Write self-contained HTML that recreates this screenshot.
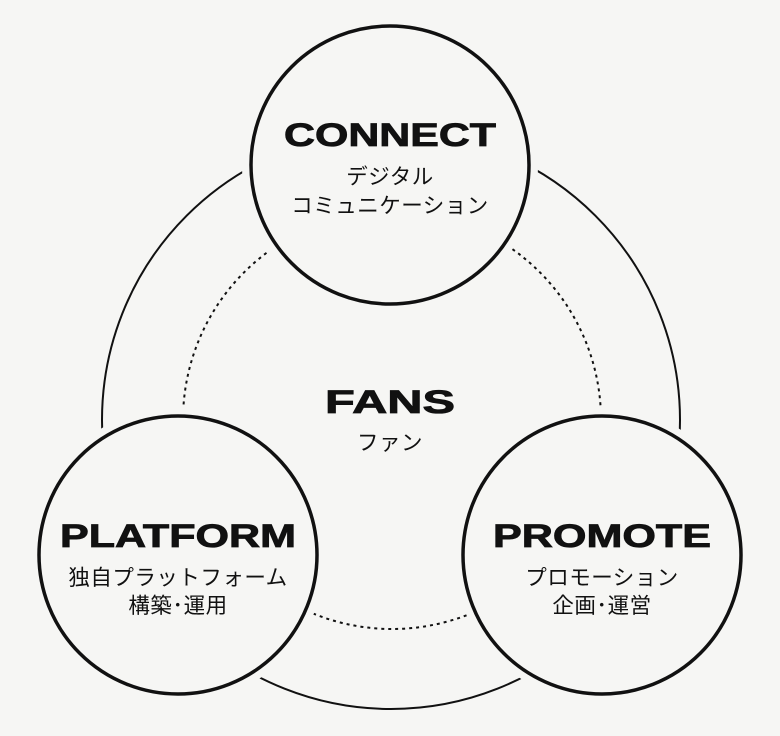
<!DOCTYPE html>
<html><head><meta charset="utf-8"><style>
html,body{margin:0;padding:0;background:#f6f6f4;}
svg{display:block}
.t{font-family:"Liberation Sans",sans-serif;font-weight:bold;font-size:32px;fill:#111;text-anchor:middle;stroke:#111;stroke-width:0.8}
.j{font-family:"Liberation Sans","Noto Sans CJK JP",sans-serif;font-size:21.5px;fill:#111;text-anchor:middle;letter-spacing:0.5px}
</style></head><body>
<svg width="780" height="736" viewBox="0 0 780 736">
<rect width="780" height="736" fill="#f6f6f4"/>
<circle cx="391" cy="420" r="289" fill="none" stroke="#111" stroke-width="2"/>
<circle cx="392" cy="420" r="209" fill="none" stroke="#111" stroke-width="2" stroke-dasharray="3,4"/>
<g fill="#f6f6f4">
<circle cx="390" cy="165" r="148"/>
<circle cx="178" cy="555" r="148"/>
<circle cx="602" cy="555" r="148"/>
</g>
<circle cx="390" cy="165" r="139" fill="#f6f6f4" stroke="#111" stroke-width="3.5"/>
<circle cx="178" cy="555" r="139" fill="#f6f6f4" stroke="#111" stroke-width="3.5"/>
<circle cx="602" cy="555" r="139" fill="#f6f6f4" stroke="#111" stroke-width="3.5"/>
<text class="t" x="390" y="146" textLength="212" lengthAdjust="spacingAndGlyphs">CONNECT</text>
<text class="j" x="390" y="184">デジタル</text>
<text class="j" x="390" y="213">コミュニケーション</text>
<text class="t" x="390" y="413" textLength="130" lengthAdjust="spacingAndGlyphs">FANS</text>
<text class="j" x="390" y="450">ファン</text>
<text class="t" x="178" y="547" textLength="236" lengthAdjust="spacingAndGlyphs">PLATFORM</text>
<text class="j" x="178" y="585">独自プラットフォーム</text>
<text class="j" x="178" y="613">構築･運用</text>
<text class="t" x="602" y="547" textLength="218" lengthAdjust="spacingAndGlyphs">PROMOTE</text>
<text class="j" x="602" y="585">プロモーション</text>
<text class="j" x="602" y="613">企画･運営</text>
</svg>
</body></html>
